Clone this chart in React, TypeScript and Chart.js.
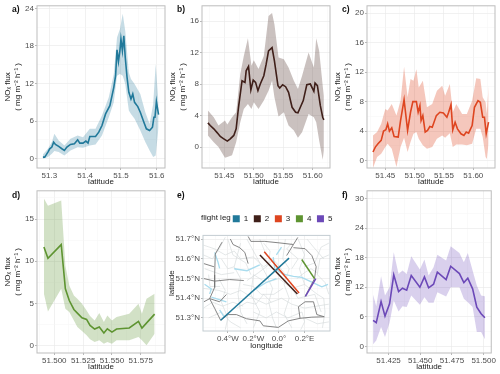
import React, { useEffect, useRef } from "react";
import { Chart, registerables } from "chart.js";

Chart.register(...registerables);

const FONT = "'Liberation Sans', Arial, sans-serif";

// ---- panel a
const aLat = [51.282,51.287,51.292,51.296,51.301,51.307,51.312,51.317,51.326,51.335,51.342,51.349,51.359,51.370,51.379,51.385,51.394,51.402,51.408,51.413,51.429,51.438,51.447,51.457,51.469,51.480,51.485,51.489,51.493,51.497,51.500,51.504,51.508,51.512,51.517,51.522,51.528,51.533,51.538,51.547,51.554,51.564,51.571,51.580,51.588,51.592,51.595,51.599,51.605];
const aFlux = [0.26,0.26,0.69,1.06,1.59,1.85,2.65,2.28,1.96,1.59,1.32,1.85,2.28,2.38,3.02,2.49,2.49,2.81,2.49,3.55,3.55,4.24,5.3,7.15,8.47,11.39,13.24,17.37,15.52,17.21,19.07,17.21,19.6,16.15,12.98,10.59,9.53,10.33,9.0,8.32,7.42,5.83,4.77,4.5,5.03,6.62,6.62,9.11,7.04];
const aBandLat = [51.282,51.296,51.307,51.314,51.326,51.342,51.359,51.379,51.394,51.413,51.429,51.447,51.466,51.480,51.489,51.497,51.505,51.512,51.522,51.528,51.538,51.554,51.568,51.580,51.590,51.597,51.605];
const aUpper = [0.69,1.59,2.65,3.97,2.91,2.12,3.18,3.71,3.44,4.77,4.77,6.89,9.8,13.5,19.33,20.66,23.15,20.39,13.77,12.71,11.92,10.33,7.42,5.56,8.74,15.1,8.74];
const aLower = [0,0.26,0.79,1.22,1.06,0.53,1.32,1.85,1.75,2.12,2.28,3.71,6.62,9.0,13.24,13.5,13.24,11.92,7.68,7.15,6.36,4.5,2.65,1.32,0.26,0.53,5.03];
const aXTicks = [51.3,51.4,51.5,51.6];
const aXLabels = ["51.3","51.4","51.5","51.6"];
const aYTicks = [0,6,12,18,24];

// ---- panel b
const bLat = [51.422,51.426,51.432,51.438,51.443,51.449,51.455,51.460,51.466,51.470,51.474,51.480,51.485,51.487,51.491,51.495,51.499,51.503,51.507,51.511,51.517,51.521,51.525,51.531,51.535,51.541,51.544,51.549,51.554,51.559,51.565,51.571,51.575,51.579,51.584,51.590,51.596,51.602,51.604,51.608,51.613,51.617,51.619];
const bFlux = [3.08,2.74,2.32,1.81,1.35,1.05,0.76,1.05,1.48,2.32,5.06,8.44,8.23,9.7,10.25,7.26,8.52,8.23,7.17,8.02,9.07,10.55,12.24,12.66,10.97,7.81,7.51,7.93,7.68,6.96,5.06,4.43,4.35,5.06,5.91,7.93,8.02,7.09,8.14,7.81,5.27,3.8,3.46];
const bBandLat = [51.422,51.432,51.440,51.451,51.455,51.463,51.470,51.477,51.483,51.490,51.496,51.500,51.508,51.517,51.525,51.531,51.535,51.542,51.551,51.559,51.568,51.575,51.582,51.593,51.602,51.606,51.611,51.617,51.619];
const bUpper = [4.64,3.8,2.74,3.38,2.87,3.8,4.43,9.28,11.6,13.84,10.34,11.05,9.92,11.6,16.67,17.05,15.61,11.39,11.18,10.13,8.44,7.38,9.07,12.03,10.13,13.84,12.24,7.81,6.54];
const bLower = [1.48,0.63,0,-1.35,-1.27,-1.05,0.63,3.16,4.85,5.49,4.85,5.7,4.85,5.91,7.17,8.44,6.33,3.88,4.43,2.74,2.11,1.18,1.9,4.22,3.8,3.16,0.84,-1.6,-0.42];
const bXTicks = [51.45,51.5,51.55,51.6];
const bXLabels = ["51.45","51.50","51.55","51.60"];
const bYTicks = [0,4,8,12,16];

// ---- panel c
const cLat = [51.429,51.433,51.4375,51.443,51.447,51.451,51.454,51.457,51.461,51.465,51.472,51.476,51.482,51.488,51.493,51.497,51.503,51.506,51.509,51.511,51.514,51.518,51.522,51.526,51.530,51.537,51.543,51.549,51.555,51.558,51.562,51.565,51.569,51.573,51.579,51.584,51.588,51.592,51.598,51.602,51.608,51.612,51.616,51.619,51.622,51.626];
const cFlux = [1.17,1.84,2.29,2.74,4.0,4.18,4.99,4.0,4.45,3.28,3.19,5.44,8.27,4.09,6.56,8.0,8.0,6.56,7.46,5.44,6.11,3.87,4.09,4.63,4.54,6.11,6.56,6.47,5.89,6.56,7.6,4.18,5.21,4.31,3.64,3.42,3.87,3.73,4.76,7.24,8.13,7.91,5.89,5.89,3.64,5.21];
const cBandLat = [51.429,51.436,51.443,51.45,51.454,51.461,51.469,51.476,51.482,51.488,51.493,51.498,51.503,51.507,51.514,51.521,51.530,51.538,51.547,51.552,51.560,51.565,51.571,51.581,51.589,51.598,51.605,51.612,51.616,51.621,51.623,51.626];
const cUpper = [3.42,3.87,4.99,7.01,6.79,7.69,6.11,8.13,12.72,8.58,11.06,10.83,12.4,9.93,10.83,7.24,7.69,9.48,10.16,8.81,10.38,6.56,7.69,6.34,6.34,8.13,11.19,11.06,8.58,7.91,6.34,10.16];
const cLower = [-1,0.49,0.94,1.84,2.29,1.62,-0.85,1.84,3.1,1.17,2.52,3.64,3.87,2.97,2.07,1.62,1.84,2.97,3.42,3.1,3.73,1.84,2.2,2.2,2.07,2.29,4.31,4.31,3.19,0.49,0.22,2.29];
const cXTicks = [51.45,51.5,51.55,51.6];
const cXLabels = ["51.45","51.50","51.55","51.60"];
const cYTicks = [0,4,8,12,16,20];

// ---- panel d
const dLat = [51.491,51.4945,51.506,51.5096,51.513,51.517,51.520,51.524,51.528,51.531,51.535,51.539,51.543,51.546,51.550,51.554,51.565,51.573,51.576,51.587];
const dFlux = [11.69,10.35,11.97,6.73,5.35,4.29,3.86,3.31,3.11,2.4,1.97,2.2,1.5,2.0,1.61,1.97,2.09,2.87,2.09,3.74];
const dBandLat = [51.491,51.4945,51.506,51.5096,51.513,51.517,51.520,51.524,51.528,51.531,51.535,51.539,51.543,51.546,51.550,51.554,51.565,51.573,51.576,51.580,51.587];
const dUpper = [17.44,16.57,17.2,9.49,7.13,5.94,5.55,4.96,4.17,3.5,2.99,3.86,2.8,3.58,2.99,3.39,3.78,4.96,3.78,5.55,6.14];
const dLower = [6.14,4.06,6.73,4.37,3.98,2.99,2.2,1.73,1.22,0.75,0.43,0.63,0.24,0.43,0.24,0.63,0.63,1.02,0.63,0.04,1.42];
const dXTicks = [51.5,51.525,51.55,51.575];
const dXLabels = ["51.500","51.525","51.550","51.575"];
const dYTicks = [0,5,10,15];

// ---- panel f
const fLat = [51.4128,51.4153,51.4191,51.4222,51.4258,51.4291,51.4329,51.436,51.4393,51.4429,51.4497,51.4533,51.4566,51.4605,51.4635,51.4704,51.474,51.4809,51.4844,51.4875,51.4913,51.4946,51.498,51.501];
const fFlux = [5.26,4.79,9.1,6.14,8.63,14.5,11.13,11.8,11.4,14.36,12.0,14.09,11.87,12.61,15.04,13.55,16.25,14.77,12.95,13.82,11.67,7.96,6.61,5.8];
const fUpper = [10.45,8.16,14.23,10.32,12.0,19.08,14.7,15.37,14.7,18.27,15.58,17.6,14.36,16.05,18.61,17.4,20.3,18.95,17.06,18.95,15.37,12.34,10.32,10.18];
const fLower = [0.4,1.21,3.91,1.89,4.79,9.31,7.08,8.16,7.96,10.32,8.43,9.98,8.83,8.83,10.99,10.11,12.0,12.0,9.64,8.97,7.96,2.9,2.9,1.42];
const fXTicks = [51.425,51.45,51.475,51.5];
const fXLabels = ["51.425","51.450","51.475","51.500"];
const fYTicks = [0,6,12,18,24,30];

// ---- panel e (map), [longitude, latitude]
const legNames = ["1","2","3","4","5"];
const leg1 = [[-0.456,51.288],[0.079,51.604]];
const leg2 = [[-0.149,51.620],[0.144,51.422]];
const leg3 = [[-0.115,51.636],[0.157,51.427]];
const leg4 = [[0.178,51.597],[0.278,51.500]];
const leg5 = [[0.288,51.500],[0.207,51.409]];
const mapLonTicks = [-0.4,-0.2,0,0.2];
const mapLonLabels = ["0.4°W","0.2°W","0.0°","0.2°E"];
const mapLatTicks = [51.3,51.4,51.5,51.6,51.7];
const mapLatLabels = ["51.3°N","51.4°N","51.5°N","51.6°N","51.7°N"];

const roads = [
  [[-0.456,51.288],[-0.398,51.317],[-0.333,51.317],[-0.254,51.296],[-0.149,51.285],[-0.123,51.260],[-0.005,51.252],[0.073,51.285],[0.165,51.298],[0.257,51.304],[0.354,51.306]],
  [[0.165,51.298],[0.152,51.357],[0.204,51.382],[0.270,51.382],[0.296,51.317],[0.354,51.306]],
  [[0.204,51.409],[0.278,51.5],[0.291,51.56],[0.257,51.617],[0.204,51.652],[0.113,51.657]],
  [[0.147,51.709],[0.113,51.673],[0.008,51.681],[-0.11,51.689],[-0.22,51.689],[-0.241,51.714]],
  [[0.113,51.673],[0.06,51.617]],
  [[-0.38,51.701],[-0.359,51.673],[-0.307,51.657],[-0.267,51.633],[-0.241,51.576]],
  [[-0.445,51.685],[-0.498,51.625],[-0.503,51.519],[-0.503,51.455],[-0.542,51.398],[-0.587,51.382]],
  [[-0.587,51.576],[-0.508,51.56]],
  [[-0.587,51.5],[-0.503,51.487],[-0.385,51.495],[-0.275,51.49]],
  [[-0.542,51.398],[-0.503,51.349],[-0.456,51.288]],
  [[-0.542,51.398],[-0.464,51.382],[-0.411,51.419]],
];
const rivers = [
  [[-0.018,51.544],[0.034,51.523],[0.113,51.511],[0.178,51.506],[0.257,51.482],[0.335,51.458],[0.383,51.471]],
  [[-0.503,51.633],[-0.477,51.584],[-0.464,51.552]],
  [[-0.582,51.471],[-0.529,51.447],[-0.542,51.422]],
  [[-0.529,51.406],[-0.411,51.382]],
  [[-0.045,51.609],[-0.031,51.544]],
  [[-0.464,51.341],[-0.425,51.301]],
  [[-0.35,51.55],[-0.25,51.54],[-0.15,51.57]],
  [[-0.2,51.44],[-0.1,51.48],[-0.02,51.5]],
  [[0.02,51.66],[-0.02,51.62]],
];
const boundaries = [
  [[-0.59,51.67],[-0.5,51.65],[-0.42,51.62],[-0.35,51.64],[-0.3,51.60],[-0.2,51.61],[-0.12,51.56],[-0.05,51.59]],
  [[-0.25,51.70],[-0.2,51.64],[-0.15,51.58],[-0.1,51.52],[-0.05,51.45],[-0.08,51.38],[-0.05,51.30],[-0.02,51.25]],
  [[-0.59,51.45],[-0.47,51.44],[-0.38,51.42],[-0.3,51.44],[-0.2,51.40],[-0.1,51.37],[0.02,51.40],[0.1,51.37],[0.2,51.35],[0.39,51.37]],
  [[-0.35,51.56],[-0.3,51.5],[-0.32,51.42],[-0.3,51.33],[-0.25,51.27]],
  [[0.05,51.7],[0.03,51.6],[0.08,51.55],[0.04,51.47],[0.08,51.4],[0.04,51.32],[0.1,51.25]],
  [[0.39,51.62],[0.32,51.6],[0.3,51.52],[0.36,51.48],[0.39,51.42]],
  [[-0.2,51.52],[-0.1,51.48],[0,51.5],[0.1,51.45],[0.2,51.47],[0.3,51.42]],
  [[-0.55,51.3],[-0.45,51.33],[-0.38,51.28],[-0.3,51.25]],
  [[0.15,51.7],[0.2,51.62],[0.16,51.55],[0.2,51.47]],
  [[0.2,51.3],[0.3,51.27],[0.39,51.28]],
  [[-0.58,51.55],[-0.45,51.52],[-0.35,51.53]],
  [[0.1,51.68],[0.06,51.65],[0.15,51.6],[0.1,51.55]],
  [[-0.45,51.6],[-0.4,51.55],[-0.35,51.56],[-0.3,51.68]],
  [[-0.2,51.52],[-0.22,51.42],[-0.15,51.33],[-0.2,51.25]],
  [[0.1,51.45],[0.15,51.4],[0.28,51.42],[0.33,51.33]],
  [[-0.59,51.62],[-0.52,51.6],[-0.46,51.66],[-0.42,51.71]],
  [[-0.4,51.7],[-0.36,51.62],[-0.26,51.58],[-0.22,51.52]],
  [[-0.15,51.7],[-0.1,51.62],[-0.02,51.58],[0.05,51.52]],
  [[-0.59,51.35],[-0.52,51.38],[-0.44,51.36],[-0.36,51.38],[-0.28,51.36]],
  [[-0.47,51.5],[-0.42,51.44],[-0.45,51.38],[-0.4,51.3],[-0.42,51.24]],
  [[-0.28,51.47],[-0.2,51.46],[-0.14,51.42],[-0.04,51.42],[0.03,51.45]],
  [[-0.2,51.33],[-0.1,51.3],[-0.02,51.33],[0.07,51.3],[0.18,51.33]],
  [[0.2,51.56],[0.28,51.58],[0.33,51.66],[0.39,51.68]],
  [[0.22,51.7],[0.27,51.66],[0.35,51.6]],
  [[0.14,51.5],[0.2,51.53],[0.25,51.55],[0.3,51.53]],
  [[0.3,51.42],[0.35,51.4],[0.36,51.33],[0.34,51.25]],
  [[0.18,51.33],[0.2,51.28],[0.17,51.24]],
  [[-0.12,51.68],[-0.07,51.64],[-0.08,51.57],[-0.16,51.53],[-0.25,51.49]],
  [[-0.55,51.52],[-0.54,51.46],[-0.46,51.46]],
  [[-0.33,51.35],[-0.25,51.38],[-0.18,51.37],[-0.12,51.42],[-0.06,51.38]],
];

const COLORS = ["#21799a","#3f1f19","#de4520","#5e9431","#6c49b8"];
const BANDS = ["rgba(33,121,154,0.26)","rgba(63,31,25,0.28)","rgba(222,69,32,0.30)","rgba(94,148,49,0.28)","rgba(108,73,184,0.26)"];

const pts = (xs: number[], ys: number[]) => xs.map((x, i) => ({ x, y: ys[i] }));
const pairs = (p: number[][]) => p.map(([x, y]) => ({ x, y }));

function buildTicks(major: number[], labels: string[] | null, min: number, max: number) {
  const step = major[1] - major[0];
  const out: any[] = [];
  major.forEach((v, i) => out.push({ value: v, major: true, label: labels ? labels[i] : String(v) }));
  const mids = [major[0] - step / 2, ...major.map((v) => v + step / 2)];
  mids.forEach((v) => { if (v > min && v < max) out.push({ value: v, major: false, label: "" }); });
  return out.sort((a, b) => a.value - b.value);
}

function axis(major: number[], labels: string[] | null, min: number, max: number, title: string | string[], size: number, horizontal: boolean, titlePad: any) {
  const tk = buildTicks(major, labels, min, max);
  return {
    type: "linear",
    min,
    max,
    afterBuildTicks: (s: any) => { s.ticks = tk.map((t) => ({ ...t })); },
    afterFit: (s: any) => { if (horizontal) s.height = size; else s.width = size; },
    border: { display: false },
    grid: {
      color: (c: any) => (c.tick && c.tick.major ? "#ebebeb" : "#f5f5f5"),
      lineWidth: (c: any) => (c.tick && c.tick.major ? 0.7 : 0.5),
      tickColor: (c: any) => (c.tick && c.tick.major ? "#999999" : "rgba(0,0,0,0)"),
      tickLength: 2,
      drawTicks: true,
    },
    ticks: {
      autoSkip: false,
      maxRotation: 0,
      minRotation: 0,
      padding: 1,
      color: "#4d4d4d",
      font: { family: FONT, size: 8 },
      callback: (v: number, i: number, all: any[]) => all[i].label,
    },
    title: {
      display: true,
      text: title,
      color: "#1a1a1a",
      padding: titlePad,
      font: { family: FONT, size: 8, lineHeight: 1.35 },
    },
  };
}

const frame = {
  id: "frame",
  afterLayout(chart: any) {
    const o = chart.options.plugins.frame;
    if (o.legendShiftY && chart.legend) {
      chart.legend.top += o.legendShiftY;
      chart.legend.bottom += o.legendShiftY;
      chart.legend.left += o.legendShiftX;
      chart.legend.right += o.legendShiftX;
    }
  },
  afterDraw(chart: any) {
    const { ctx, chartArea: a } = chart;
    ctx.save();
    ctx.strokeStyle = chart.options.plugins.frame.color;
    ctx.lineWidth = 1;
    ctx.strokeRect(a.left, a.top, a.right - a.left, a.bottom - a.top);
    ctx.restore();
  },
};

const Y_TITLE = ["NOₓ flux", "( mg m⁻² h⁻¹ )"];

type Panel = {
  tag: string; tagX: number; tagY: number; left: number; top: number;
  lat: number[]; flux: number[]; bandLat: number[]; upper: number[]; lower: number[];
  xTicks: number[]; xLabels: string[]; yTicks: number[];
  xMin: number; xMax: number; yMin: number; yMax: number; c: number;
};

const panels: Panel[] = [
  { tag: "a)", tagX: 12, tagY: 4, left: 0, top: 0, lat: aLat, flux: aFlux, bandLat: aBandLat, upper: aUpper, lower: aLower, xTicks: aXTicks, xLabels: aXLabels, yTicks: aYTicks, xMin: 51.2655, xMax: 51.623, yMin: -1.48, yMax: 24.4, c: 0 },
  { tag: "b)", tagX: 177, tagY: 4, left: 165, top: 0, lat: bLat, flux: bFlux, bandLat: bBandLat, upper: bUpper, lower: bLower, xTicks: bXTicks, xLabels: bXLabels, yTicks: bYTicks, xMin: 51.412, xMax: 51.6294, yMin: -2.66, yMax: 17.97, c: 1 },
  { tag: "c)", tagX: 342, tagY: 4, left: 330, top: 0, lat: cLat, flux: cFlux, bandLat: cBandLat, upper: cUpper, lower: cLower, xTicks: cXTicks, xLabels: cXLabels, yTicks: cYTicks, xMin: 51.4188, xMax: 51.637, yMin: -1, yMax: 21, c: 2 },
  { tag: "d)", tagX: 12, tagY: 190, left: 0, top: 185, lat: dLat, flux: dFlux, bandLat: dBandLat, upper: dUpper, lower: dLower, xTicks: dXTicks, xLabels: dXLabels, yTicks: dYTicks, xMin: 51.485, xMax: 51.596, yMin: -0.87, yMax: 18.35, c: 3 },
  { tag: "f)", tagX: 342, tagY: 190, left: 330, top: 185, lat: fLat, flux: fFlux, bandLat: fLat, upper: fUpper, lower: fLower, xTicks: fXTicks, xLabels: fXLabels, yTicks: fYTicks, xMin: 51.408, xMax: 51.506, yMin: -1.35, yMax: 31.56, c: 4 },
];

function FluxPanel({ p }: { p: Panel }) {
  const ref = useRef<HTMLCanvasElement>(null);
  useEffect(() => {
    const chart = new Chart(ref.current as any, {
      type: "line",
      data: {
        datasets: [
          { data: pts(p.lat, p.flux), borderColor: COLORS[p.c], borderWidth: 1.6, pointRadius: 0, fill: false, tension: 0 },
          { data: pts(p.bandLat, p.upper), borderWidth: 0, borderColor: "rgba(0,0,0,0)", pointRadius: 0, fill: "+1", backgroundColor: BANDS[p.c], tension: 0 },
          { data: pts(p.bandLat, p.lower), borderWidth: 0, borderColor: "rgba(0,0,0,0)", pointRadius: 0, fill: false, tension: 0 },
        ],
      },
      options: {
        responsive: false,
        animation: false,
        layout: { autoPadding: false, padding: { left: 0, top: 5, right: 2, bottom: 0 } },
        plugins: { legend: { display: false }, tooltip: { enabled: false }, frame: { color: "#bdbdbd" } },
        scales: {
          x: axis(p.xTicks, p.xLabels, p.xMin, p.xMax, "latitude", 19, true, { top: 0, bottom: 0 }),
          y: axis(p.yTicks, null, p.yMin, p.yMax, Y_TITLE, 37, false, { top: 2, bottom: 0 }),
        },
      } as any,
      plugins: [frame],
    } as any);
    return () => chart.destroy();
  }, [p]);
  return <canvas ref={ref} width={167} height={187} style={{ position: "absolute", left: p.left, top: p.top, display: "block" }} />;
}

function MapPanel() {
  const ref = useRef<HTMLCanvasElement>(null);
  useEffect(() => {
    const thin = (d: number[][], color: string, w: number) => ({ data: pairs(d), borderColor: color, borderWidth: w, pointRadius: 0, fill: false, tension: 0, label: "" });
    const legs = [leg1, leg2, leg3, leg4, leg5].map((d, i) => ({
      data: pairs(d), label: legNames[i], borderColor: COLORS[i], backgroundColor: COLORS[i], borderWidth: 1.5, pointRadius: 0, fill: false, tension: 0,
    }));
    const chart = new Chart(ref.current as any, {
      type: "line",
      data: {
        datasets: [
          ...legs,
          ...roads.map((d) => thin(d, "#777777", 0.9)),
          ...rivers.map((d) => thin(d, "#a9dcee", 1.3)),
          ...boundaries.map((d) => thin(d, "#d2d6d9", 0.6)),
        ],
      },
      options: {
        responsive: false,
        animation: false,
        layout: { autoPadding: false, padding: { left: 0, top: 4.8, right: 9, bottom: 0 } },
        plugins: {
          tooltip: { enabled: false },
          frame: { color: "#c4cdd2", legendShiftY: -2.7, legendShiftX: 8 },
          legend: {
            display: true,
            position: "top",
            align: "end",
            labels: {
              boxWidth: 7,
              boxHeight: 7,
              padding: 5.6,
              color: "#1a1a1a",
              font: { family: FONT, size: 8 },
              filter: (it: any) => it.text !== "",
              generateLabels: (ch: any) =>
                ch.data.datasets.map((d: any, i: number) => ({ text: d.label, fillStyle: d.backgroundColor, strokeStyle: "rgba(0,0,0,0)", lineWidth: 0, datasetIndex: i, fontColor: "#1a1a1a" })),
            },
          },
        },
        scales: {
          x: axis(mapLonTicks, mapLonLabels, -0.594, 0.399, "longitude", 20, true, { top: 0, bottom: 0 }),
          y: axis(mapLatTicks, mapLatLabels, 51.2336, 51.7194, "latitude", 38, false, { top: 1, bottom: 0 }),
        },
      } as any,
      plugins: [frame],
    } as any);
    return () => chart.destroy();
  }, []);
  return <canvas ref={ref} width={174} height={144} style={{ position: "absolute", left: 165, top: 207, display: "block" }} />;
}

const tagStyle = (x: number, y: number): React.CSSProperties => ({
  position: "absolute", left: x, top: y, font: `bold 8.5px ${FONT}`, color: "#111", lineHeight: "10px",
});

export default function App() {
  return (
    <div style={{ position: "fixed", left: 0, top: 0, width: 500, height: 374, background: "#fff", overflow: "hidden" }}>
      {panels.map((p) => <FluxPanel key={p.tag} p={p} />)}
      <MapPanel />
      {panels.map((p) => <div key={p.tag} style={tagStyle(p.tagX, p.tagY)}>{p.tag}</div>)}
      <div style={tagStyle(177, 190)}>e)</div>
      <div style={{ position: "absolute", left: 201, top: 213, font: `8px ${FONT}`, color: "#1a1a1a", lineHeight: "10px" }}>flight leg</div>
    </div>
  );
}
